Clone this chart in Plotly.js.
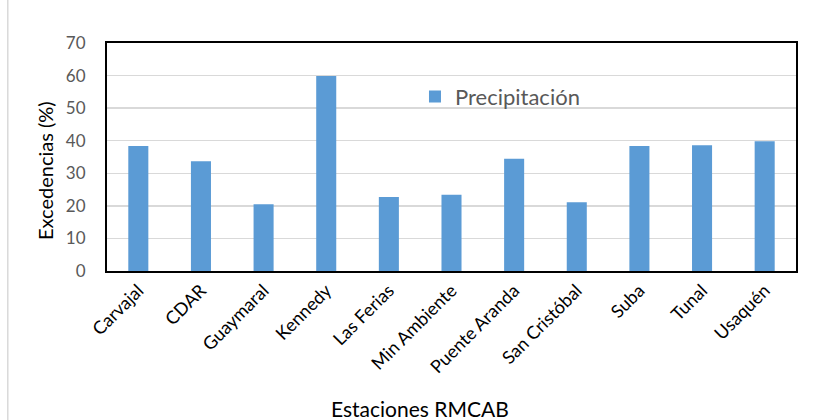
<!DOCTYPE html>
<html>
<head>
<meta charset="utf-8">
<script src="https://cdn.plot.ly/plotly-3.0.1.min.js"></script>
<style>body{margin:0;padding:0;background:#fff;} #chart{width:821px;height:420px;}</style>
</head>
<body>
<div id="chart"></div>
<script>
const estaciones = ["Carvajal","CDAR","Guaymaral","Kennedy","Las Ferias","Min Ambiente","Puente Aranda","San Cristóbal","Suba","Tunal","Usaquén"];
const precipitacion = [38.4, 33.7, 20.5, 59.9, 22.7, 23.4, 34.5, 21.1, 38.4, 38.6, 39.8];
const yTicks = [0,10,20,30,40,50,60,70];

const font = "Lato, 'Open Sans', sans-serif";
const trace = {
  type: 'bar',
  x: estaciones,
  y: precipitacion,
  name: 'Precipitación',
  marker: {color: '#5b9bd5'},
  showlegend: true
};
const layout = {
  width: 821, height: 420,
  margin: {l: 107, r: 25, t: 43, b: 149},
  paper_bgcolor: '#fff', plot_bgcolor: '#fff',
  font: {family: font},
  bargap: 0.68,
  xaxis: {
    tickangle: -45,
    tickfont: {size: 18, color: '#000', family: font},
    showline: true, linecolor: '#000', linewidth: 2, mirror: true,
    ticks: '', showgrid: false
  },
  yaxis: {
    range: [0, 70],
    tickvals: yTicks,
    tickfont: {size: 17, color: '#595959', family: font},
    showline: true, linecolor: '#000', linewidth: 2, mirror: true,
    gridcolor: '#d9d9d9', gridwidth: 1.5,
    ticks: 'outside', ticklen: 16, tickcolor: 'rgba(0,0,0,0)',
    zeroline: false
  },
  legend: {
    x: 0.447, y: 0.765, xanchor: 'left', yanchor: 'middle',
    font: {size: 22, color: '#595959', family: font},
    bgcolor: 'rgba(0,0,0,0)'
  },
  annotations: [
    {text: 'Excedencias (%)', xref: 'paper', yref: 'paper', x: -0.09, y: 0.5, yshift: -13, xanchor: 'center', yanchor: 'middle', textangle: -90, showarrow: false, font: {size: 20, color: '#000', family: font}},
    {text: 'Estaciones RMCAB', xref: 'paper', yref: 'paper', x: 0.454, y: 0, yshift: -137, xanchor: 'center', yanchor: 'middle', showarrow: false, font: {size: 21, color: '#000', family: font}}
  ],
  shapes: [
    {type: 'rect', xref: 'paper', yref: 'paper', x0: -0.144, x1: 1.05, y0: -0.7, y1: 1.412, line: {color: '#d9d9d9', width: 1.5}, fillcolor: 'rgba(0,0,0,0)', layer: 'below'}
  ]
};
Plotly.newPlot('chart', [trace], layout, {displayModeBar: false, staticPlot: true});
</script>
</body>
</html>
